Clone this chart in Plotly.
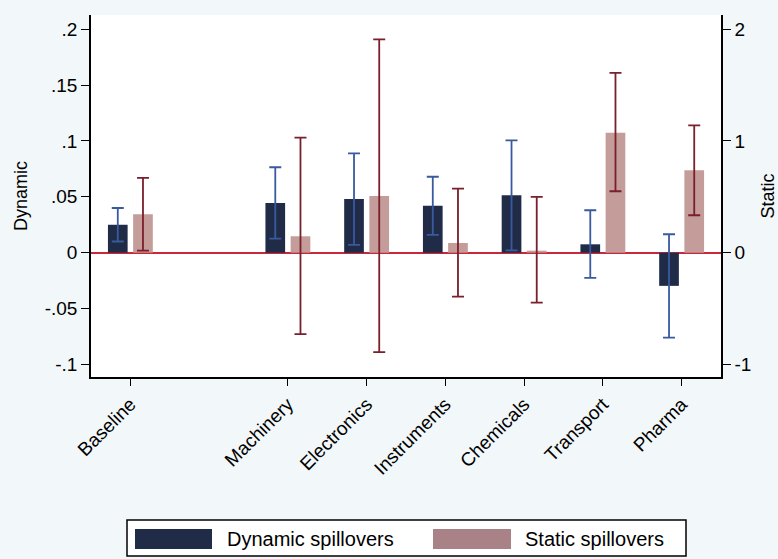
import plotly.graph_objects as go

# ---- data ----
categories = ["Baseline", "Machinery", "Electronics", "Instruments", "Chemicals", "Transport", "Pharma"]
dynamic = [0.025, 0.0445, 0.048, 0.042, 0.0515, 0.0075, -0.0297]
dynamic_lo = [0.010, 0.0125, 0.007, 0.016, 0.002, -0.0225, -0.076]
dynamic_hi = [0.040, 0.0765, 0.089, 0.068, 0.1005, 0.038, 0.0165]
static = [0.344, 0.147, 0.508, 0.087, 0.018, 1.074, 0.738]
static_lo = [0.018, -0.73, -0.89, -0.394, -0.448, 0.55, 0.335]
static_hi = [0.67, 1.03, 1.91, 0.573, 0.50, 1.61, 1.14]
left_ticks = [-0.1, -0.05, 0, 0.05, 0.1, 0.15, 0.2]
left_ticktext = ["-.1", "-.05", "0", ".05", ".1", ".15", ".2"]
right_ticks = [-1, 0, 1, 2]
right_ticktext = ["-1", "0", "1", "2"]

# x positions: one empty slot after the baseline
xpos = [i + (1 if i > 0 else 0) for i in range(len(categories))]

DYN_COLOR = "#1f2b47"
STA_COLOR = "#c49c99"
DYN_ERR = "#3a5aa0"
STA_ERR = "#7a1f2c"
FONT = "Liberation Sans, Arial, Helvetica, sans-serif"

fig = go.Figure()
fig.add_trace(go.Bar(
    x=xpos, y=dynamic, name="Dynamic spillovers",
    width=0.25, offset=-0.285,
    marker=dict(color=DYN_COLOR, line=dict(width=0)),
    error_y=dict(type="data", symmetric=False,
                 array=[h - v for h, v in zip(dynamic_hi, dynamic)],
                 arrayminus=[v - l for v, l in zip(dynamic, dynamic_lo)],
                 color=DYN_ERR, thickness=1.8, width=6),
    yaxis="y",
))
fig.add_trace(go.Bar(
    x=xpos, y=static, name="Static spillovers",
    width=0.25, offset=0.035,
    marker=dict(color=STA_COLOR, line=dict(width=0)),
    error_y=dict(type="data", symmetric=False,
                 array=[h - v for h, v in zip(static_hi, static)],
                 arrayminus=[v - l for v, l in zip(static, static_lo)],
                 color=STA_ERR, thickness=1.8, width=6),
    yaxis="y2",
))

W, H = 778, 559
L, R, T, B = 91, 57, 15, 182
pw, ph = W - L - R, H - T - B

def px(x):
    return (x - L) / pw

def py(y):
    return (H - B - y) / ph

shapes = [
    # legend box
    dict(type="rect", xref="paper", yref="paper", x0=px(127), x1=px(686), y0=py(556), y1=py(520),
         line=dict(color="black", width=1.5), fillcolor="white", layer="above"),
    dict(type="rect", xref="paper", yref="paper", x0=px(135), x1=px(212), y0=py(549), y1=py(529),
         line=dict(width=0), fillcolor=DYN_COLOR, layer="above"),
    dict(type="rect", xref="paper", yref="paper", x0=px(433), x1=px(511), y0=py(549), y1=py(529),
         line=dict(width=0), fillcolor="#a88287", layer="above"),
]
annotations = [
    dict(text="Dynamic spillovers", xref="paper", yref="paper", x=px(225), y=py(539),
         xanchor="left", yanchor="middle", showarrow=False, font=dict(size=20, color="black", family=FONT)),
    dict(text="Static spillovers", xref="paper", yref="paper", x=px(523), y=py(539),
         xanchor="left", yanchor="middle", showarrow=False, font=dict(size=20, color="black", family=FONT)),
]

fig.update_layout(
    width=W, height=H,
    margin=dict(l=L, r=R, t=T, b=B, pad=0),
    paper_bgcolor="#f2f7f9",
    plot_bgcolor="white",
    showlegend=False,
    barmode="overlay",
    font=dict(family=FONT, size=18, color="black"),
    xaxis=dict(
        range=[-0.5, 7.5], tickvals=xpos, ticktext=categories, tickangle=-45,
        showline=True, linecolor="black", linewidth=1.5, mirror=False,
        ticks="outside", ticklen=7, tickwidth=1.2, tickcolor="black",
        showgrid=False, zeroline=False, automargin=False,
        tickfont=dict(size=19, family=FONT),
    ),
    yaxis=dict(
        range=[-0.1113, 0.2128], tickvals=left_ticks, ticktext=left_ticktext,
        showline=True, linecolor="black", linewidth=1.5,
        ticks="outside", ticklen=8, tickwidth=1.2, tickcolor="black",
        showgrid=False, zeroline=True, zerolinecolor="#c8283c", zerolinewidth=2,
        title=dict(text="Dynamic", font=dict(size=18, family=FONT), standoff=12),
        automargin=False, tickfont=dict(size=19, family=FONT),
    ),
    yaxis2=dict(
        range=[-1.113, 2.128], tickvals=right_ticks, ticktext=right_ticktext,
        overlaying="y", side="right",
        showline=True, linecolor="black", linewidth=1.5,
        ticks="outside", ticklen=8, tickwidth=1.2, tickcolor="black",
        showgrid=False, zeroline=False,
        title=dict(text="Static", font=dict(size=18, family=FONT), standoff=14),
        automargin=False, tickfont=dict(size=19, family=FONT),
    ),
    shapes=shapes,
    annotations=annotations,
)

fig.write_html("out.html")
